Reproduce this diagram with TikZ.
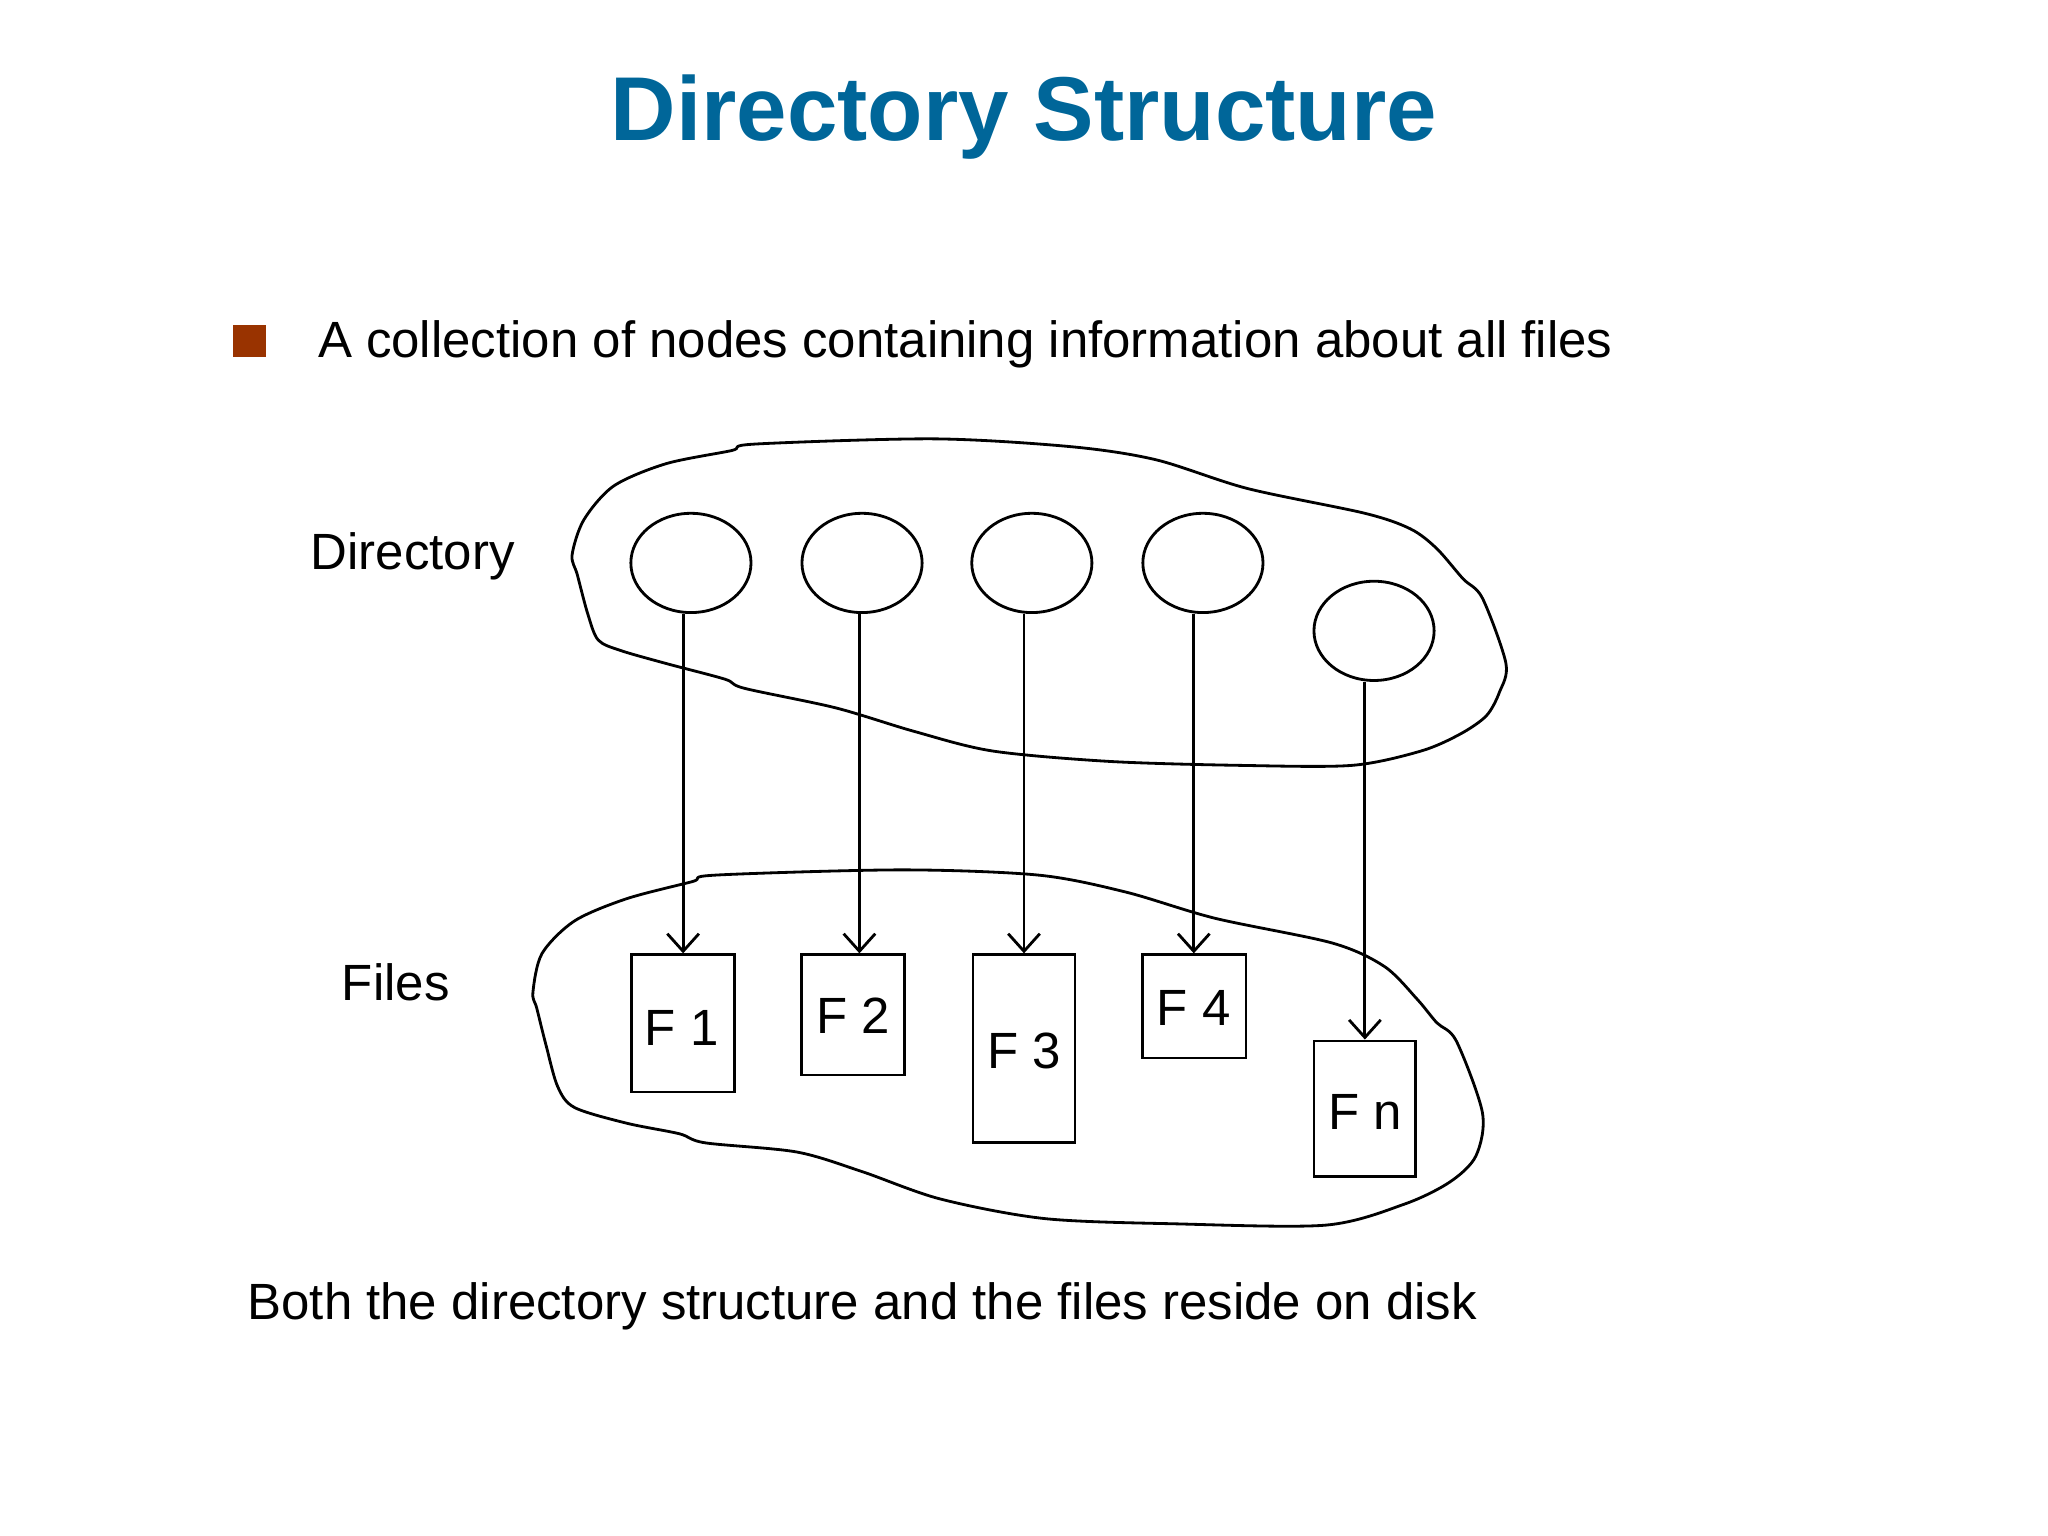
\documentclass[tikz,border=0pt]{standalone}
\usepackage{fontspec}
\setmainfont{Liberation Sans}
\usetikzlibrary{shapes.geometric,arrows.meta}
\definecolor{titleblue}{RGB}{0,102,153}
\definecolor{bulletbrown}{RGB}{153,51,0}
\newlength\pxu
\setlength\pxu{0.01306cm}
\begin{document}
\begin{tikzpicture}[x=0.01306cm,y=-0.01306cm,
  dir/.style={ellipse,draw,line width=0.8pt,minimum width=92\pxu,minimum height=76\pxu, inner sep=0},
  file/.style={draw,line width=0.8pt,inner sep=0},
  lbl/.style={font=\fontsize{14.5}{17}\selectfont},
  arr/.style={-{Straight Barb[length=5pt,width=9pt]},line width=0.8pt},
  blob/.style={draw,line width=0.8pt}]
\useasboundingbox (0,0) rectangle (1568,1176);
\node[font=\fontsize{25.8}{30}\selectfont\bfseries,text=titleblue] (title) at (784,90) {Directory Structure};
\node[fill=bulletbrown,minimum size=25\pxu,inner sep=0] (bul) at (191,261) {};
\node[lbl,anchor=west] (t1) at (234,264) {A collection of nodes containing information about all files};
\draw[blob] plot[smooth cycle,tension=0.5] coordinates {(438,425)(447,398)(470,372)(510,355)(560,345)(578,340)(715,336)(820,342)(885,352)(955,374)(1045,393)(1080,405)(1100,420)(1120,443)(1135,458)(1153,508)(1148,530)(1138,548)(1118,562)(1088,575)(1035,586)(950,586)(850,583)(760,575)(700,560)(640,542)(570,527)(555,520)(510,508)(475,498)(458,490)(450,470)(442,440)};
\draw[blob] plot[smooth cycle,tension=0.5] coordinates {(408,760)(415,730)(440,705)(480,688)(530,675)(548,670)(690,666)(795,670)(862,683)(930,703)(1020,722)(1060,740)(1085,765)(1100,783)(1115,797)(1135,852)(1130,885)(1110,905)(1075,922)(1015,938)(900,937)(800,933)(720,918)(660,897)(610,882)(540,875)(520,868)(480,860)(440,848)(427,832)(418,800)(411,772)};
\node[lbl] (ldir) at (316,426) {Directory};
\node[lbl] (lfiles) at (303,752) {Files};
\foreach \i/\x/\y/\a in {1/529/431/523,2/660/431/658,3/790/431/784,4/921/431/914,5/1052/483/1045}{
  \node[dir] (e\i) at (\x,\y) {};
  \coordinate (ax\i) at (\a,0);}
\node[file,minimum width=79\pxu,minimum height=105\pxu] (b1) at (523,783.5) {};
\node[file,minimum width=79\pxu,minimum height=92\pxu] (b2) at (653,777) {};
\node[file,minimum width=78\pxu,minimum height=144\pxu] (b3) at (784,803) {};
\node[file,minimum width=79\pxu,minimum height=79\pxu] (b4) at (914.5,770.5) {};
\node[file,minimum width=78\pxu,minimum height=104\pxu] (b5) at (1045,849) {};
\node[lbl] (f1) at (522,787) {F 1};
\node[lbl] (f2) at (653,778) {F 2};
\node[lbl] (f3) at (784,805) {F 3};
\node[lbl] (f4) at (914,772) {F 4};
\node[lbl] (f5) at (1045,851) {F n};
\foreach \i in {1,...,5}
  \draw[arr] (e\i.south -| ax\i) -- (b\i.north -| ax\i);
\node[lbl,anchor=west] (bottom) at (180,1000) {Both the directory structure and the files reside on disk};
\end{tikzpicture}
\end{document}
